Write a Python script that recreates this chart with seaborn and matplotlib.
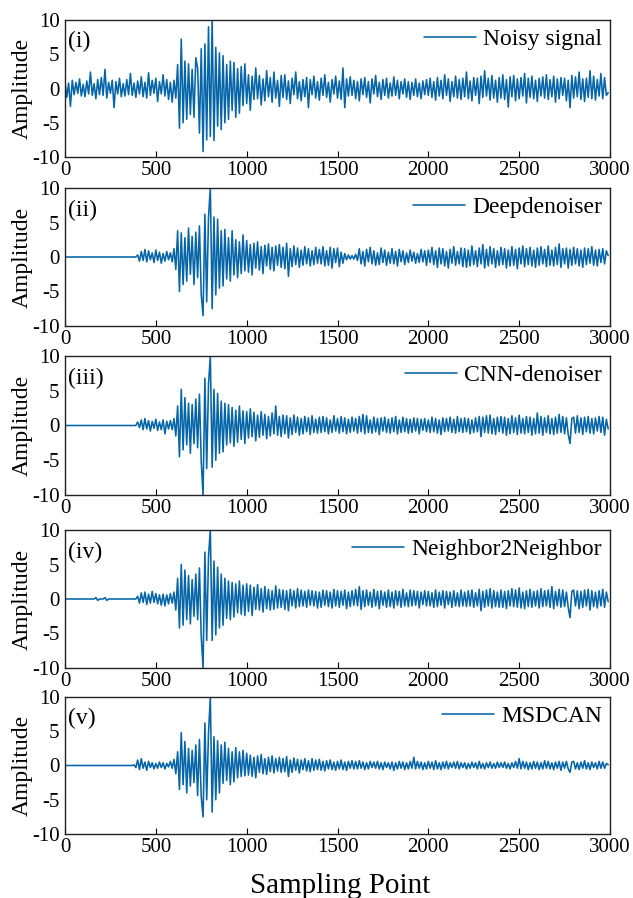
import matplotlib
matplotlib.use("Agg")
import matplotlib.pyplot as plt
import numpy as np
import pandas as pd
import seaborn as sns

# ---------------- data (one value every 10 samples) ----------------
samples = list(range(0, 3000, 10))

noisy_signal = [
    1.0, -1.3, 0.8, -2.6, 1.2, -0.9, 0.9, -0.7, 1.4, -1.1, 0.6, -1.2, 1.1, -0.8, 2.4, -1.0, 0.7, -1.5, 1.3, -0.9,
    1.6, -1.0, 2.8, -1.4, 0.9, -0.7, 1.2, -2.8, 1.0, -0.8, 1.5, -1.2, 0.7, -1.1, 1.3, -0.9, 2.2, -1.0, 0.8, -1.3,
    1.1, -0.8, 1.7, -1.2, 0.9, -1.4, 2.3, -1.0, 1.2, -0.7, 1.5, -1.9, 1.0, -0.8, 2.0, -1.1, 1.3, -1.6, 0.9, -2.0,
    1.2, -1.4, 3.5, -5.8, 7.2, -5.0, 4.0, -4.5, 3.6, -3.8, 2.8, -4.2, 4.5, 3.0, -6.5, 5.8, -9.2, 6.5, -7.5, 9.0,
    -7.0, 10.0, -7.6, 6.0, -5.5, 5.2, -6.0, 4.8, -5.0, 3.5, -4.5, 4.0, -3.2, 3.8, -4.2, 2.9, -3.6, 3.2, -2.5, 3.6,
    -2.2, 2.0, -3.2, 1.8, -1.6, 3.0, -1.5, 1.9, -2.4, 1.4, -1.8, 2.6, -1.2, 1.6, -2.0, 2.4, -1.4, 1.2, -2.6, 1.9,
    -1.3, 2.0, -1.6, 1.1, -2.2, 1.5, -0.9, 2.4, -1.5, 1.0, -1.8, 1.3, -1.2, 1.6, -2.8, 1.3, -0.9, 1.8, -1.4, 1.0,
    -1.7, 1.5, -1.0, 2.0, -1.3, 0.9, -2.0, 1.3, -0.8, 1.8, -1.4, 1.1, -1.6, 3.0, -2.8, 1.4, -1.1, 1.7, -1.0, 1.2,
    -1.5, 1.0, -1.8, 1.4, -0.9, 1.6, -1.3, 1.0, -2.1, 1.4, -0.8, 1.9, -1.2, 0.9, -1.6, 1.3, -1.0, 1.5, -1.4, 0.8,
    -1.1, 1.7, -1.0, 1.2, -1.5, 1.0, -0.8, 1.4, -1.3, 1.0, -1.6, 0.9, -1.0, 1.4, -1.2, 0.8, -1.5, 1.1, -0.9, 1.3,
    -1.0, 1.5, -1.3, 1.0, -1.7, 1.6, -1.1, 1.2, -1.5, 2.0, -1.0, 1.4, -1.9, 1.0, -1.2, 1.8, -1.4, 1.3, -1.6, 1.5,
    -1.2, 2.4, -1.5, 1.1, -1.8, 1.6, -1.0, 1.5, -2.2, 1.8, -1.3, 2.6, -1.1, 1.5, -1.7, 1.9, -1.4, 1.2, -2.0, 1.6,
    -1.4, 2.0, -1.6, 1.3, -2.7, 1.7, -1.2, 1.9, -1.8, 1.4, -1.5, 1.6, -1.1, 2.2, -2.1, 1.5, -1.3, 1.8, -1.5, 1.2,
    -1.9, 1.5, -1.1, 1.7, -1.4, 2.0, -1.6, 1.3, -1.2, 1.8, -2.0, 1.4, -1.5, 1.6, -1.0, 1.5, -1.8, 1.2, -2.8, 1.9,
    -1.4, 1.7, -1.2, 2.4, -1.6, 1.4, -1.9, 1.5, -1.3, 2.6, -1.5, 1.8, -1.7, 1.3, -1.1, 2.2, -1.5, 1.6, -1.0, -0.6,
]

deepdenoiser = [
    0.0, 0.0, 0.0, 0.0, 0.0, 0.0, 0.0, 0.0, 0.0, 0.0, 0.0, 0.0, 0.0, 0.0, 0.0, 0.0, 0.0, 0.0, 0.0, 0.0,
    0.0, 0.0, 0.0, 0.0, 0.0, 0.0, 0.0, 0.0, 0.0, 0.0, 0.0, 0.0, 0.0, 0.0, 0.0, 0.0, 0.0, 0.0, 0.0, 0.0,
    0.3, -0.6, 0.8, -0.5, 1.1, -0.7, 0.9, -0.4, 0.6, -0.8, 1.0, -0.5, 0.7, -0.9, 0.5, -0.6, 0.8, -0.4, 0.6, -0.7,
    1.2, -1.8, 3.8, -5.0, 3.5, -4.0, 2.8, -3.5, 4.2, -2.5, 3.0, -4.0, 3.6, -3.0, 4.5, -5.5, -8.5, 6.2, -6.5, 5.8,
    10.0, -7.5, 5.8, -5.5, 5.5, -4.5, 3.8, -4.2, 4.0, -3.2, 2.8, -3.5, 3.8, -2.6, 2.5, -3.0, 2.2, -2.4, 3.2, -2.0,
    2.4, -2.2, 1.8, -2.6, 2.0, -1.6, 2.2, -1.9, 1.5, -2.4, 1.7, -1.3, 1.9, -1.8, 1.4, -2.0, 1.6, -1.2, 1.8, -1.5,
    1.4, -1.7, 2.0, -2.8, 1.2, -1.4, 1.6, -1.1, 1.3, -1.5, 1.0, -1.2, 1.5, -1.0, 1.2, -1.3, 0.9, -1.1, 1.4, -0.9,
    1.1, -1.0, 1.5, -1.3, 0.9, -1.2, 1.4, -1.6, 1.2, -0.8, 1.3, -1.4, 0.7, -0.9, 0.5, -0.4, 0.3, -0.3, 0.2, -0.3,
    0.4, -0.5, 1.2, -1.0, 0.8, -1.3, 1.1, -0.7, 1.4, -1.0, 0.9, -1.2, 0.6, -1.1, 1.3, -0.8, 1.0, -1.2, 0.7, -0.9,
    1.2, -1.0, 0.8, -1.3, 1.1, -0.7, 0.9, -1.1, 0.6, -0.8, 1.0, -0.6, 0.7, -0.9, 0.5, -0.8, 1.1, -0.7, 0.9, -1.2,
    1.0, -0.8, 1.4, -1.1, 0.9, -1.5, 1.3, -1.0, 1.2, -1.3, 0.8, -1.6, 1.1, -0.9, 1.5, -1.2, 0.8, -1.0, 1.3, -1.4,
    1.2, -1.5, 1.0, -1.3, 1.6, -1.1, 0.9, -1.4, 1.3, -1.0, 1.8, -1.6, 1.1, -1.3, 1.5, -1.0, 1.2, -1.5, 0.9, -1.2,
    1.4, -1.1, 1.2, -1.6, 1.0, -1.3, 1.5, -1.2, 1.1, -1.7, 1.3, -1.0, 1.6, -1.4, 1.2, -1.1, 1.4, -1.3, 1.0, -1.5,
    1.3, -1.2, 1.5, -1.0, 1.1, -1.4, 1.6, -1.2, 1.0, -1.3, 1.4, -1.1, 1.9, -1.5, 1.2, -1.0, 1.3, -1.6, 1.1, -1.2,
    1.4, -1.0, 1.2, -1.3, 1.0, -1.5, 1.3, -1.1, 1.2, -0.9, 1.5, -1.2, 1.0, -1.3, 1.1, -0.8, 1.2, -1.0, 0.9, 0.2,
]

cnn_denoiser = [
    0.0, 0.0, 0.0, 0.0, 0.0, 0.0, 0.0, 0.0, 0.0, 0.0, 0.0, 0.0, 0.0, 0.0, 0.0, 0.0, 0.0, 0.0, 0.0, 0.0,
    0.0, 0.0, 0.0, 0.0, 0.0, 0.0, 0.0, 0.0, 0.0, 0.0, 0.0, 0.0, 0.0, 0.0, 0.0, 0.0, 0.0, 0.0, 0.0, 0.0,
    0.5, -0.3, 0.8, -0.6, 1.0, -0.5, 0.7, -0.8, 0.6, -0.4, 0.9, -0.7, 0.5, -0.6, 0.8, -1.2, 0.6, -0.5, 0.7, -0.6,
    1.0, -1.5, 2.8, -4.5, 5.2, -3.5, 4.0, -2.8, 3.2, -4.0, 3.0, -2.6, 3.8, -3.2, 4.5, -5.2, -10.0, 6.8, -6.2, 6.0,
    10.0, -6.0, 5.2, -5.0, 4.6, -4.0, 3.5, -3.8, 3.2, -2.8, 3.0, -2.5, 2.6, -3.0, 2.2, -2.4, 2.8, -2.0, 2.1, -2.6,
    2.0, -1.8, 2.4, -1.6, 1.9, -2.2, 1.5, -1.7, 2.0, -1.4, 1.6, -1.9, 1.3, -1.5, 1.8, -1.2, 2.8, -1.4, 1.3, -1.6,
    1.5, -1.2, 1.4, -1.8, 1.1, -1.3, 1.5, -1.0, 1.2, -1.4, 1.0, -1.2, 1.3, -0.9, 1.1, -1.3, 1.4, -1.0, 0.9, -1.1,
    1.2, -1.0, 1.3, -0.9, 1.1, -1.2, 0.8, -1.0, 1.4, -0.8, 1.0, -1.1, 1.3, -0.9, 1.1, -1.2, 0.9, -1.0, 1.2, -0.8,
    1.0, -1.1, 1.3, -0.9, 1.6, -1.2, 1.4, -1.0, 0.8, -1.1, 1.2, -0.9, 1.0, -1.3, 1.1, -0.8, 1.2, -1.0, 0.9, -1.1,
    1.1, -0.9, 1.3, -1.2, 0.8, -1.0, 1.2, -0.9, 1.0, -1.1, 0.9, -1.0, 1.1, -0.8, 1.0, -1.2, 0.9, -0.7, 1.0, -0.9,
    0.8, -1.0, 1.2, -0.9, 1.0, -1.1, 0.8, -1.3, 1.1, -0.9, 1.0, -0.8, 1.2, -1.0, 0.9, -1.1, 1.3, -0.9, 1.0, -1.0,
    1.1, -0.9, 1.0, -1.2, 0.8, -1.0, 1.1, -0.9, 1.3, -1.6, 1.2, -1.0, 1.4, -1.1, 1.5, -1.2, 1.0, -1.3, 1.2, -0.9,
    1.3, -1.1, 1.2, -1.4, 1.0, -1.2, 1.4, -1.0, 1.1, -1.3, 1.5, -1.1, 1.0, -1.2, 1.3, -1.0, 1.2, -1.4, 1.0, -1.2,
    1.8, -1.1, 1.3, -1.4, 1.1, -1.0, 1.4, -1.2, 1.0, -1.3, 1.2, -1.1, 1.6, -1.0, 1.3, -1.2, 1.1, -1.3, -2.6, 1.0,
    1.2, -1.1, 1.4, -1.0, 1.1, -1.3, 1.2, -0.9, 1.3, -1.1, 1.0, -1.2, 1.1, -0.8, 1.3, -1.0, 1.2, -1.4, 0.9, -0.5,
]

neighbor2neighbor = [
    0.0, 0.0, 0.0, 0.0, 0.0, 0.0, 0.0, 0.0, 0.0, 0.0, 0.0, 0.0, 0.0, 0.0, 0.0, 0.0, 0.0, 0.2, -0.2, 0.0,
    0.0, 0.0, 0.2, -0.2, 0.0, 0.0, 0.0, 0.0, 0.0, 0.0, 0.0, 0.0, 0.0, 0.0, 0.0, 0.0, 0.0, 0.0, 0.0, 0.0,
    0.4, -0.6, 0.9, -0.5, 1.0, -0.8, 0.7, -0.6, 1.1, -0.5, 0.8, -0.7, 0.6, -0.9, 0.7, -1.0, 0.6, -0.7, 0.8, -0.6,
    1.0, -1.6, 3.0, -4.2, 5.0, -3.8, 4.2, -3.0, 3.4, -3.6, 2.8, -2.5, 3.6, -3.0, 4.5, -5.5, -10.0, 6.8, -6.0, 6.2,
    10.0, -6.0, 5.5, -5.2, 4.6, -4.2, 3.6, -3.8, 3.0, -2.8, 2.6, -3.0, 2.4, -2.6, 2.2, -2.0, 2.6, -2.2, 2.0, -2.4,
    2.2, -1.8, 2.0, -2.4, 1.7, -1.5, 2.1, -1.6, 1.5, -1.9, 1.8, -1.4, 1.4, -1.6, 1.2, -1.5, 1.9, -1.3, 1.4, -1.2,
    1.3, -1.5, 1.2, -1.7, 1.4, -1.0, 1.2, -1.3, 1.5, -1.1, 1.3, -1.0, 1.1, -1.2, 1.3, -0.9, 1.2, -1.0, 1.1, -1.3,
    1.0, -1.2, 1.3, -0.9, 1.2, -1.1, 1.0, -1.3, 1.4, -1.0, 1.2, -1.2, 1.1, -0.9, 1.3, -1.4, 1.0, -1.1, 1.2, -0.9,
    1.4, -1.0, 1.8, -1.5, 1.2, -1.1, 1.3, -0.9, 1.0, -1.2, 1.4, -1.0, 1.1, -1.4, 1.2, -0.9, 1.0, -1.2, 1.3, -1.1,
    1.0, -1.3, 1.2, -0.9, 1.1, -1.2, 1.4, -1.0, 0.9, -1.1, 1.3, -1.0, 1.2, -0.9, 1.1, -1.3, 1.0, -0.8, 1.2, -1.0,
    1.1, -1.0, 0.9, -1.2, 1.3, -1.1, 1.0, -0.9, 1.2, -1.3, 1.1, -0.8, 1.0, -1.2, 1.2, -1.0, 0.9, -1.1, 1.3, -1.0,
    1.0, -1.1, 1.2, -1.0, 1.3, -1.2, 0.9, -1.0, 1.4, -1.7, 1.1, -1.2, 1.3, -1.0, 1.5, -1.3, 1.2, -1.1, 1.0, -1.2,
    1.3, -1.2, 1.1, -1.4, 1.2, -1.0, 1.5, -1.1, 1.3, -1.2, 1.6, -1.3, 1.0, -1.4, 1.2, -1.1, 1.4, -1.2, 1.1, -1.0,
    1.2, -1.3, 1.5, -1.1, 1.2, -1.0, 1.3, -1.2, 1.8, -1.4, 1.1, -1.0, 1.4, -1.2, 1.3, -1.1, 1.0, -1.2, -2.7, 1.1,
    1.3, -1.0, 1.2, -1.4, 1.1, -1.2, 1.3, -1.0, 1.4, -1.6, 1.2, -1.1, 1.0, -1.3, 1.2, -1.0, 1.4, -1.2, 1.0, -0.4,
]

msdcan = [
    0.0, 0.0, 0.0, 0.0, 0.0, 0.0, 0.0, 0.0, 0.0, 0.0, 0.0, 0.0, 0.0, 0.0, 0.0, 0.0, 0.0, 0.0, 0.0, 0.0,
    0.0, 0.0, 0.0, 0.0, 0.0, 0.0, 0.0, 0.0, 0.0, 0.0, 0.0, 0.0, 0.0, 0.0, 0.0, 0.0, 0.0, 0.0, 0.1, -0.3,
    0.8, -0.6, 1.0, -0.4, 0.5, -0.7, 0.6, -0.3, 0.4, -0.5, 0.3, -0.4, 0.5, -0.3, 0.4, -0.5, 0.3, -0.2, 0.6, -0.4,
    0.9, -1.2, 2.0, -3.5, 4.8, -2.8, 3.5, -4.0, 2.5, -3.0, 2.2, -2.5, 3.0, -4.4, 3.8, -4.6, -7.5, 6.2, -5.0, 4.8,
    10.0, -6.8, 4.2, -5.0, 3.6, -4.0, 3.0, -2.6, 3.4, -2.2, 2.5, -2.8, 2.0, -2.4, 2.6, -1.8, 2.0, -1.6, 2.2, -1.5,
    1.8, -1.4, 1.5, -1.6, 1.2, -1.8, 1.4, -1.0, 1.6, -1.2, 1.0, -1.3, 1.2, -0.9, 1.4, -1.1, 1.0, -0.8, 1.2, -1.0,
    1.0, -0.9, 1.3, -1.6, 0.8, -1.0, 1.1, -0.7, 0.9, -1.1, 0.8, -0.6, 1.0, -0.8, 0.7, -0.9, 1.0, -0.7, 0.8, -0.6,
    0.9, -0.7, 0.6, -0.8, 0.7, -0.5, 0.8, -0.6, 0.5, -0.7, 0.6, -0.5, 0.8, -0.6, 0.5, -0.7, 0.6, -0.4, 0.7, -0.5,
    0.6, -0.5, 0.7, -0.4, 0.5, -0.6, 0.4, -0.5, 0.6, -0.3, 0.5, -0.4, 0.6, -0.5, 0.4, -0.6, 0.5, -0.3, 0.4, -0.5,
    0.5, -0.7, 0.4, -0.5, 0.6, -0.4, 0.5, -0.6, 0.4, -0.5, 0.6, -0.4, 1.2, -0.5, 0.6, -0.4, 0.5, -0.6, 0.4, -0.5,
    0.6, -0.4, 0.5, -0.6, 0.7, -0.5, 0.4, -0.6, 0.5, -0.4, 0.6, -0.5, 0.4, -0.3, 0.5, -0.4, 0.6, -0.5, 0.4, -0.3,
    0.4, -0.5, 0.3, -0.4, 0.5, -0.3, 0.4, -0.5, 0.6, -0.4, 0.3, -0.5, 0.4, -0.3, 0.5, -0.4, 0.3, -0.4, 0.5, -0.3,
    0.4, -0.3, 0.5, -0.4, 0.3, -0.5, 0.4, -0.3, 0.6, -0.4, 1.0, -0.5, 0.6, -0.4, 0.5, -0.6, 0.4, -0.5, 0.6, -0.4,
    0.5, -0.6, 0.4, -0.5, 0.7, -0.4, 0.6, -0.5, 0.4, -0.6, 0.5, -0.4, 0.6, -0.7, 0.5, -0.4, 0.6, -0.5, -1.0, 0.5,
    0.6, -0.5, 0.4, -0.6, 0.5, -0.4, 0.7, -0.5, 0.4, -0.6, 0.5, -0.3, 0.4, -0.5, 0.6, -0.4, 0.5, -0.4, 0.3, 0.1,
]

series_names = ["Noisy signal", "Deepdenoiser", "CNN-denoiser", "Neighbor2Neighbor", "MSDCAN"]
panel_tags = ["(i)", "(ii)", "(iii)", "(iv)", "(v)"]
x_ticks = [0, 500, 1000, 1500, 2000, 2500, 3000]
y_ticks = [-10, -5, 0, 5, 10]

all_series = [noisy_signal, deepdenoiser, cnn_denoiser, neighbor2neighbor, msdcan]
for s in all_series:
    assert len(s) == len(samples), len(s)

# ---------------- style ----------------
sns.set_theme(style="ticks")
plt.rcParams["font.family"] = ["Liberation Serif", "DejaVu Serif"]
plt.rcParams["axes.unicode_minus"] = False
plt.rcParams["text.color"] = "black"
plt.rcParams["axes.labelcolor"] = "black"
plt.rcParams["xtick.color"] = "black"
plt.rcParams["ytick.color"] = "black"

LINE_COLOR = "#0565a8"
W, H = 633, 898
fig = plt.figure(figsize=(W / 100, H / 100), dpi=100)

# axes boxes in pixels (top, bottom)
boxes = [(20, 157), (188, 326), (356, 495), (530, 668), (697, 834)]
left_px, right_px = 65, 610

for name, tag, vals, (top, bot) in zip(series_names, panel_tags, all_series, boxes):
    ax = fig.add_axes([left_px / W, 1 - bot / H, (right_px - left_px) / W, (bot - top) / H])
    df = pd.DataFrame({"Sampling Point": samples, "Amplitude": vals})
    sns.lineplot(data=df, x="Sampling Point", y="Amplitude", ax=ax, color=LINE_COLOR,
                 linewidth=1.15, estimator=None, sort=False, label=name)
    ax.set_xlim(0, 3000)
    ax.set_ylim(-10, 10)
    ax.set_xticks(x_ticks)
    ax.set_yticks(y_ticks)
    ax.tick_params(axis="x", direction="in", length=4, width=0.8, labelsize=15, pad=3,
                   colors="black", labelcolor="black")
    ax.tick_params(axis="y", direction="in", length=0, labelsize=15, pad=4,
                   colors="black", labelcolor="black")
    ax.set_xlabel("")
    ax.set_ylabel("Amplitude", fontsize=17, color="black")
    ax.yaxis.set_label_coords(-0.06, 0.5)
    for sp in ax.spines.values():
        sp.set_visible(True)
        sp.set_color("#222222")
        sp.set_linewidth(1.0)
    leg = ax.legend(loc="upper right", frameon=False, fontsize=17, handlelength=2.2,
                    handletextpad=0.3, borderpad=0.25, borderaxespad=0.1)
    for t in leg.get_texts():
        t.set_color("black")
    ax.text(0.006, 0.84, tag, transform=ax.transAxes, fontsize=17, ha="left", va="center",
            color="black")

fig.text(0.537, 1 - 893 / H, "Sampling Point", fontsize=21, ha="center", va="baseline",
         color="black")

fig.savefig("out.png", dpi=100, facecolor="white")
